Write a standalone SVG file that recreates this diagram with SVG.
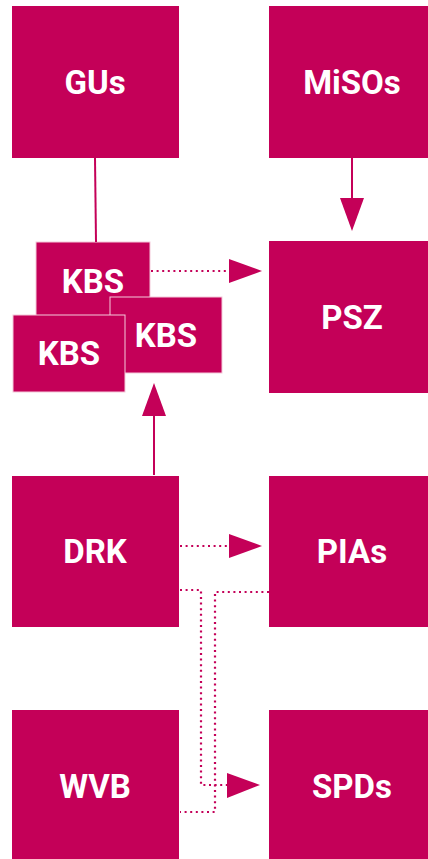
<svg xmlns="http://www.w3.org/2000/svg" width="428" height="859" viewBox="0 0 428 859">
<style>
.box{fill:#C40058}
.kbs{fill:#C40058;stroke:#F4C9DA;stroke-width:1}
.lbl{fill:#fff;font-family:Roboto,"Liberation Sans",sans-serif;font-weight:bold;font-size:33px;text-anchor:middle}
.solid{stroke:#C40058;stroke-width:2;fill:none}
.dot{stroke:#C40058;stroke-width:2.2;fill:none;stroke-dasharray:2 3.6}
.head{fill:#C40058}
</style>
<rect width="428" height="859" fill="#fff"/>
<g id="GUs"><rect class="box" x="12" y="6" width="167" height="152"/><text class="lbl" x="95" y="94">GUs</text></g>
<g id="MiSOs"><rect class="box" x="269" y="6" width="167" height="152"/><text class="lbl" x="352" y="94">MiSOs</text></g>
<g id="PSZ"><rect class="box" x="269" y="241" width="167" height="152"/><text class="lbl" x="352" y="329">PSZ</text></g>
<g id="KBS1"><rect class="kbs" x="36" y="242" width="114" height="76"/><text class="lbl" x="93" y="293">KBS</text></g>
<g id="KBS2"><rect class="kbs" x="110" y="297" width="112" height="76"/><text class="lbl" x="166" y="347">KBS</text></g>
<g id="KBS3"><rect class="kbs" x="13" y="315" width="112" height="77"/><text class="lbl" x="69" y="365">KBS</text></g>
<g id="DRK"><rect class="box" x="12" y="476" width="167" height="151"/><text class="lbl" x="95" y="563">DRK</text></g>
<g id="PIAs"><rect class="box" x="269" y="476" width="167" height="151"/><text class="lbl" x="352" y="563">PIAs</text></g>
<g id="WVB"><rect class="box" x="12" y="710" width="167" height="152"/><text class="lbl" x="95" y="798">WVB</text></g>
<g id="SPDs"><rect class="box" x="269" y="710" width="167" height="152"/><text class="lbl" x="352" y="798">SPDs</text></g>
<g id="connectors">
<line class="solid" x1="95" y1="158" x2="96" y2="242"/>
<line class="solid" x1="352" y1="158" x2="352" y2="200"/>
<polygon class="head" points="340,198 364,198 352,231"/>
<line class="dot" x1="151" y1="271" x2="229" y2="271"/>
<polygon class="head" points="229,259 229,283 262,271"/>
<line class="solid" x1="154" y1="475" x2="154" y2="414"/>
<polygon class="head" points="142,416 166,416 154,383"/>
<line class="dot" x1="180" y1="546" x2="229" y2="546"/>
<polygon class="head" points="229,534 229,558 262,546"/>
<path class="dot" d="M180 590 H201 V785 H227"/>
<polygon class="head" points="227,773 227,798 260,785"/>
<path class="dot" d="M269 592 H215 V812 H180"/>
</g>
</svg>
